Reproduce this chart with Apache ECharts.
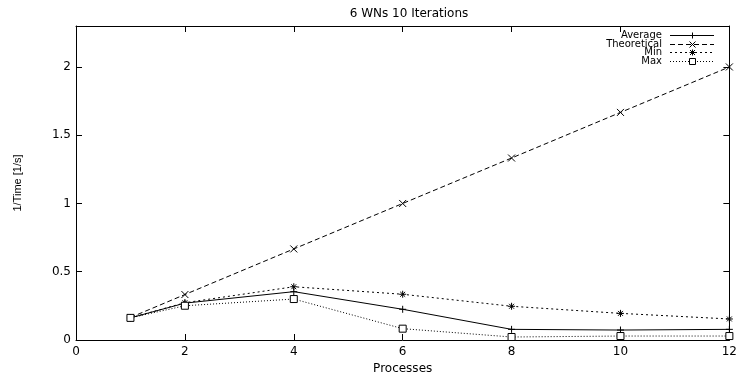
<!DOCTYPE html>
<html>
<head>
<meta charset="utf-8">
<script src="https://cdn.jsdelivr.net/npm/echarts@6/dist/echarts.min.js"></script>
<style>
  html, body { margin: 0; padding: 0; background: #fff; }
  #chart { width: 740px; height: 381px; }
</style>
</head>
<body>
<div id="chart"></div>
<script>
// data
const processes = [1, 2, 4, 6, 8, 10, 12]
const average = [0.162, 0.27, 0.354, 0.225, 0.078, 0.073, 0.078]
const theoretical = [0.165, 0.333, 0.667, 1.0, 1.333, 1.667, 2.0]
const minVals = [0.162, 0.273, 0.39, 0.335, 0.247, 0.195, 0.154]
const maxVals = [0.162, 0.251, 0.30, 0.083, 0.022, 0.029, 0.029]

const FONT = 'DejaVu Sans'
const plusPath = 'path://M0,5L10,5M5,0L5,10'
const crossPath = 'path://M0,0L10,10M10,0L0,10'
const starPath = 'path://M0,5L10,5M5,0L5,10M1.5,1.5L8.5,8.5M8.5,1.5L1.5,8.5'
const boxPath = 'path://M0,0L10,0L10,10L0,10Z'

function pairs(ys) {
  return processes.map((x, i) => [x, ys[i]])
}

function mkSeries(name, ys, symbol, dash, fill) {
  return {
    name: name,
    type: 'line',
    data: pairs(ys),
    symbol: symbol,
    symbolSize: 7,
    showAllSymbol: true,
    animation: false,
    lineStyle: { color: '#000', width: 1, type: dash },
    itemStyle: { color: fill || '#000', borderColor: '#000', borderWidth: 1 },
    z: 3
  }
}

// legend drawn by hand, gnuplot style: label right aligned, sample on the right
const legendRows = [
  { name: 'Average', dash: null, sym: 'plus' },
  { name: 'Theoretical', dash: [5, 3], sym: 'cross' },
  { name: 'Min', dash: [2, 3], sym: 'star' },
  { name: 'Max', dash: [1, 2], sym: 'rect' }
]
const legendGraphic = []
function seg(x1, y1, x2, y2, dash) {
  legendGraphic.push({
    type: 'line', shape: { x1: x1, y1: y1, x2: x2, y2: y2 },
    style: { stroke: '#000', lineWidth: 1, lineDash: dash || null }
  })
}
legendRows.forEach((r, i) => {
  const y = Math.round(35 + i * 8.7) + 0.5
  legendGraphic.push({
    type: 'text', x: 662, y: y,
    style: { text: r.name, font: '10px "DejaVu Sans"', fill: '#000', textAlign: 'right', textVerticalAlign: 'middle' }
  })
  seg(670, y, 714, y, r.dash)
  const cx = 692.5
  if (r.sym === 'plus') {
    seg(cx - 3, y, cx + 3, y); seg(cx, y - 3, cx, y + 3)
  } else if (r.sym === 'cross') {
    seg(cx - 3, y - 3, cx + 3, y + 3); seg(cx + 3, y - 3, cx - 3, y + 3)
  } else if (r.sym === 'star') {
    seg(cx - 3, y, cx + 3, y); seg(cx, y - 3, cx, y + 3)
    seg(cx - 2.5, y - 2.5, cx + 2.5, y + 2.5); seg(cx + 2.5, y - 2.5, cx - 2.5, y + 2.5)
  } else {
    legendGraphic.push({ type: 'rect', shape: { x: cx - 3, y: y - 3, width: 6, height: 6 }, style: { stroke: '#000', fill: '#fff', lineWidth: 1 } })
  }
})

const chart = echarts.init(document.getElementById('chart'))

function ticks() {
  return { show: true, inside: true, length: 6, lineStyle: { color: '#000', width: 1 } }
}
function border() {
  return { show: true, onZero: false, lineStyle: { color: '#000', width: 1 } }
}
function labels(show, margin, extra) {
  return Object.assign({ show: show, color: '#000', fontFamily: FONT, fontSize: 12, margin: margin }, extra || {})
}

chart.setOption({
  animation: false,
  backgroundColor: '#fff',
  textStyle: { fontFamily: FONT },
  title: {
    text: '6 WNs 10 Iterations',
    left: 404, top: 3, textAlign: 'center',
    textStyle: { fontFamily: FONT, fontSize: 12, fontWeight: 'normal', color: '#000' }
  },
  grid: { left: 76, right: 8, top: 26, bottom: 41, containLabel: false },
  xAxis: [{
    type: 'value', min: 0, max: 12, interval: 2, position: 'bottom',
    name: 'Processes', nameLocation: 'middle', nameGap: 21,
    nameTextStyle: { fontFamily: FONT, fontSize: 12, color: '#000' },
    axisLine: border(), axisTick: ticks(),
    axisLabel: labels(true, 6),
    splitLine: { show: false }
  }, {
    type: 'value', min: 0, max: 12, interval: 2, position: 'top',
    axisLine: border(), axisTick: ticks(),
    axisLabel: labels(false, 6), splitLine: { show: false }
  }],
  yAxis: [{
    type: 'value', min: 0, max: 2.3, interval: 0.5, position: 'left',
    name: '1/Time [1/s]', nameLocation: 'middle', nameGap: 53, nameRotate: 90,
    nameTextStyle: { fontFamily: 'Liberation Sans', fontSize: 11, color: '#000' },
    axisLine: border(), axisTick: ticks(),
    axisLabel: labels(true, 5, { showMaxLabel: false }),
    splitLine: { show: false }
  }, {
    type: 'value', min: 0, max: 2.3, interval: 0.5, position: 'right',
    axisLine: border(), axisTick: ticks(),
    axisLabel: labels(false, 5), splitLine: { show: false }
  }],
  series: [
    mkSeries('Average', average, plusPath, 'solid'),
    mkSeries('Theoretical', theoretical, crossPath, [5, 3]),
    mkSeries('Min', minVals, starPath, [2, 3]),
    mkSeries('Max', maxVals, boxPath, [1, 2], '#fff')
  ],
  graphic: legendGraphic
})
</script>
</body>
</html>
